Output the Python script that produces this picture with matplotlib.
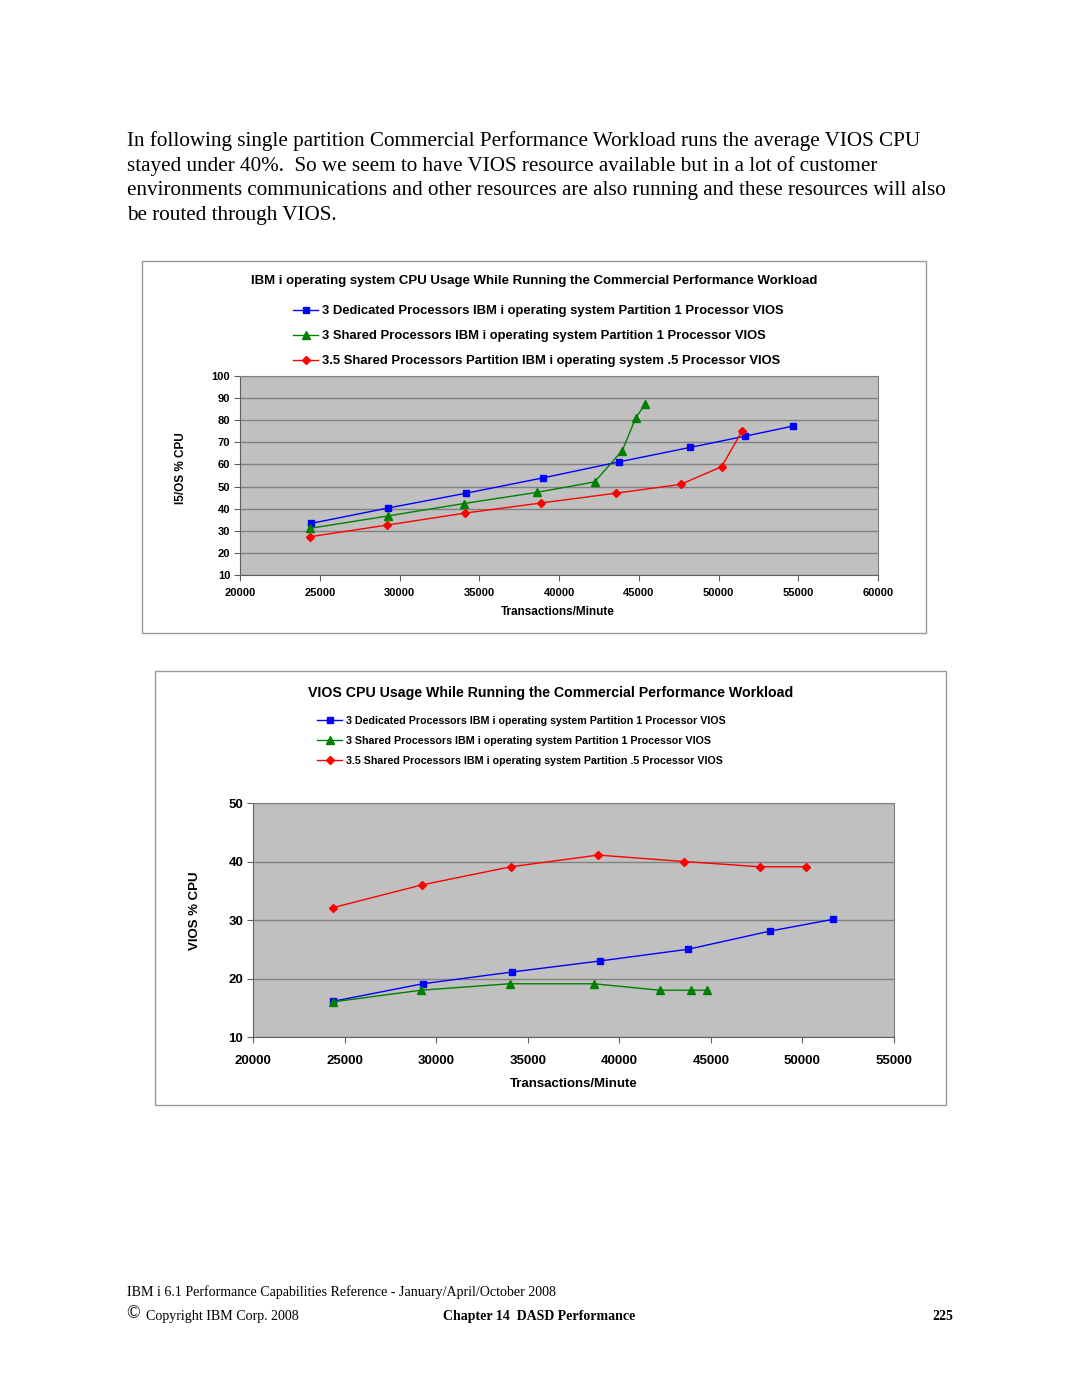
import matplotlib
matplotlib.use("Agg")
import matplotlib.pyplot as plt
from matplotlib.patches import Rectangle
from matplotlib.lines import Line2D

# ---- data ----
series_names = ["3 Dedicated Processors IBM i operating system Partition 1 Processor VIOS",
                "3 Shared Processors IBM i operating system Partition 1 Processor VIOS",
                "3.5 Shared Processors Partition IBM i operating system .5 Processor VIOS"]
series_names2 = ["3 Dedicated Processors IBM i operating system Partition 1 Processor VIOS",
                 "3 Shared Processors IBM i operating system Partition 1 Processor VIOS",
                 "3.5 Shared Processors IBM i operating system Partition .5 Processor VIOS"]

# chart 1: IBM i CPU
ded_tpm = [24430, 29290, 34180, 38980, 43790, 48220, 51680, 54640]
ded_cpu = [33.3, 40.3, 47.0, 53.9, 61.2, 67.7, 72.8, 77.3]
shr_tpm = [24380, 29270, 34020, 38640, 42230, 43970, 44815, 45400]
shr_cpu = [31.1, 36.7, 42.3, 47.4, 52.1, 66.3, 81.1, 87.3]
s35_tpm = [24380, 29240, 34100, 38900, 43570, 47640, 50200, 51470]
s35_cpu = [27.3, 32.6, 38.0, 42.6, 47.0, 51.0, 59.0, 75.1]

# chart 2: VIOS CPU
v_ded_tpm = [24370, 29270, 34120, 38950, 43760, 48220, 51650]
v_ded_cpu = [16.1, 19.1, 21.1, 23.0, 25.0, 28.1, 30.1]
v_shr_tpm = [24350, 29180, 34010, 38610, 42200, 43940, 44770]
v_shr_cpu = [16.0, 18.0, 19.1, 19.1, 18.0, 18.0, 18.0]
v_s35_tpm = [24350, 29220, 34080, 38840, 43530, 47670, 50200]
v_s35_cpu = [32.1, 36.0, 39.1, 41.1, 40.0, 39.1, 39.1]

paragraph = ["In following single partition Commercial Performance Workload runs the average VIOS CPU",
             "stayed under 40%.  So we seem to have VIOS resource available but in a lot of customer",
             "environments communications and other resources are also running and these resources will also",
             "be routed through VIOS."]

W, H = 1080, 1397
fig = plt.figure(figsize=(W / 100, H / 100), dpi=100)
fig.patch.set_facecolor("white")

def rect(l, t, r, b):
    return [l / W, 1 - b / H, (r - l) / W, (b - t) / H]

def px(x, y):
    return x / W, 1 - y / H

serif = ["Liberation Serif", "DejaVu Serif"]
sans = ["Liberation Sans", "DejaVu Sans"]

# page paragraph
for i, line in enumerate(paragraph):
    fig.text(*px(127, 141.5 + i * 24.7), line, family=serif, fontsize=15.25, va="center", ha="left")

# chart frames
for (l, t, r, b) in [(142, 261, 926, 633), (155, 671, 946, 1105)]:
    fig.patches.append(Rectangle(px(l, b), (r - l) / W, (b - t) / H, transform=fig.transFigure,
                                 fill=False, edgecolor="#999999", lw=1.0))

colors = ["#0000FF", "#008000", "#FF0000"]
markers = ["s", "^", "D"]
msizes = [5, 5.5, 4.5]

def style_axes(ax, xlim, ylim, xticks, yticks, fs, xpad):
    ax.set_facecolor("#C0C0C0")
    ax.set_xlim(*xlim)
    ax.set_ylim(*ylim)
    ax.set_xticks(xticks)
    ax.set_yticks(yticks)
    ax.set_xticklabels([str(v) for v in xticks], fontweight="bold", fontsize=fs, family=sans)
    ax.set_yticklabels([str(v) for v in yticks], fontweight="bold", fontsize=fs, family=sans)
    ax.grid(axis="y", color="#808080", lw=1.0)
    ax.set_axisbelow(True)
    for s in ax.spines.values():
        s.set_color("#808080")
    ax.spines["left"].set_color("#606060")
    ax.spines["bottom"].set_color("#606060")
    ax.tick_params(direction="out", length=4, color="#606060", width=0.8, pad=3)
    ax.tick_params(axis="x", pad=xpad)

# ---- chart 1 ----
ax1 = fig.add_axes(rect(240, 376, 878, 575))
style_axes(ax1, (20000, 60000), (10, 100), list(range(20000, 60001, 5000)), list(range(10, 101, 10)), 8, 5)
for xs, ys, c, m, ms in zip([ded_tpm, shr_tpm, s35_tpm], [ded_cpu, shr_cpu, s35_cpu], colors, markers, msizes):
    ax1.plot(xs, ys, color=c, lw=1.0, marker=m, ms=ms, mec=c, mfc=c, clip_on=False)
fig.text(*px(534, 281), "IBM i operating system CPU Usage While Running the Commercial Performance Workload",
         family=sans, fontweight="bold", fontsize=9.55, ha="center", va="center")
for i, name in enumerate(series_names):
    y = 311 + i * 25
    fig.lines.append(Line2D([293 / W, 318 / W], [1 - (y - 1) / H] * 2, transform=fig.transFigure,
                            color=colors[i], lw=1.0))
    fig.lines.append(Line2D([305.5 / W], [1 - (y - 1) / H], transform=fig.transFigure, color=colors[i],
                            marker=markers[i], ms=msizes[i], mfc=colors[i], mec=colors[i]))
    fig.text(*px(322, y), name, family=sans, fontweight="bold", fontsize=9.35, ha="left", va="center")
fig.text(*px(181, 468), "I5/OS % CPU", family=sans, fontweight="bold", fontsize=8.5,
         rotation=90, ha="center", va="center")
fig.text(*px(558, 612), "Transactions/Minute", family=sans, fontweight="bold", fontsize=8.5,
         ha="center", va="center")

# ---- chart 2 ----
ax2 = fig.add_axes(rect(253, 803, 894, 1037))
style_axes(ax2, (20000, 55000), (10, 50), list(range(20000, 55001, 5000)), list(range(10, 51, 10)), 9.5, 9)
for xs, ys, c, m, ms in zip([v_ded_tpm, v_shr_tpm, v_s35_tpm], [v_ded_cpu, v_shr_cpu, v_s35_cpu],
                            colors, markers, msizes):
    ax2.plot(xs, ys, color=c, lw=1.0, marker=m, ms=ms, mec=c, mfc=c, clip_on=False)
fig.text(*px(551, 693), "VIOS CPU Usage While Running the Commercial Performance Workload",
         family=sans, fontweight="bold", fontsize=10.2, ha="center", va="center")
for i, name in enumerate(series_names2):
    y = 721 + i * 20
    fig.lines.append(Line2D([317 / W, 342 / W], [1 - (y - 1) / H] * 2, transform=fig.transFigure,
                            color=colors[i], lw=1.0))
    fig.lines.append(Line2D([329.5 / W], [1 - (y - 1) / H], transform=fig.transFigure, color=colors[i],
                            marker=markers[i], ms=msizes[i], mfc=colors[i], mec=colors[i]))
    fig.text(*px(346, y), name, family=sans, fontweight="bold", fontsize=7.65, ha="left", va="center")
fig.text(*px(195, 911), "VIOS % CPU", family=sans, fontweight="bold", fontsize=9.5,
         rotation=90, ha="center", va="center")
fig.text(*px(574, 1084), "Transactions/Minute", family=sans, fontweight="bold", fontsize=9.5,
         ha="center", va="center")

# ---- footer ----
fig.text(*px(127, 1292), "IBM i 6.1 Performance Capabilities Reference - January/April/October 2008",
         family=serif, fontsize=10.1, ha="left", va="center")
fig.text(*px(126, 1314), "\u00a9", family=serif, fontsize=13, ha="left", va="center")
fig.text(*px(146, 1316.5), "Copyright IBM Corp. 2008", family=serif, fontsize=10.1, ha="left", va="center")
fig.text(*px(443, 1316.5), "Chapter 14  DASD Performance", family=serif, fontweight="bold",
         fontsize=10.0, ha="left", va="center")
fig.text(*px(953, 1316.5), "225", family=serif, fontweight="bold", fontsize=10.0, ha="right", va="center")

fig.savefig("out.png", dpi=100, facecolor="white")
